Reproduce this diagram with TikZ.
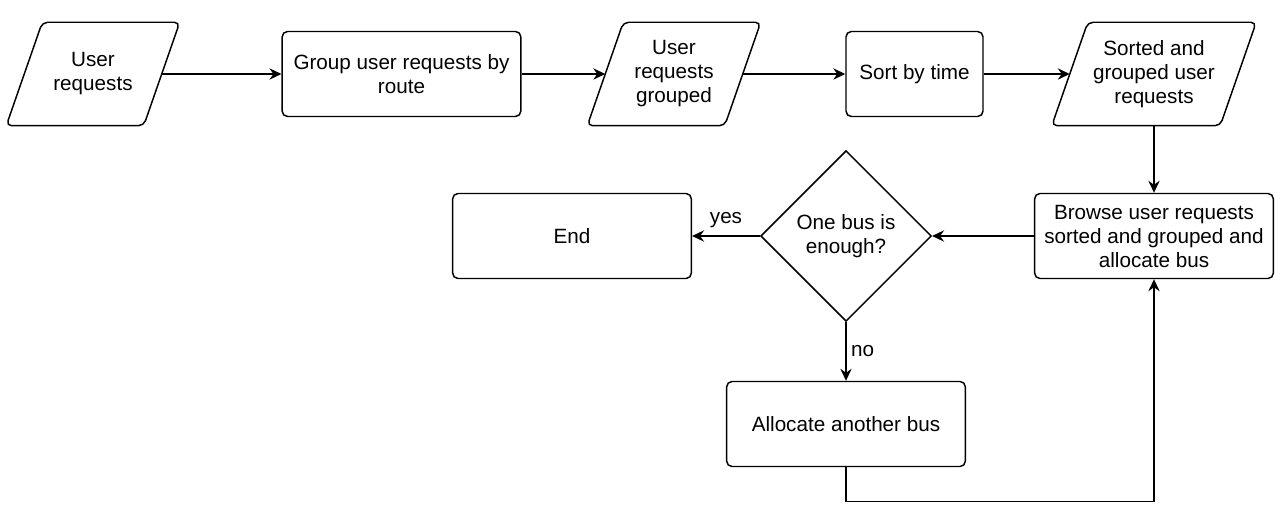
\documentclass[tikz,border=0pt]{standalone}
\usepackage{fontspec}
\setmainfont{Liberation Sans}
\usetikzlibrary{arrows.meta,shapes.geometric}

\begin{document}
\begin{tikzpicture}[x=0.75pt,y=-0.75pt,line width=1.1pt,
  font=\fontsize{15.5}{18}\selectfont,
  >={Stealth[length=9pt,width=8.5pt,inset=3pt]},
  process/.style={rectangle,draw,rounded corners=4pt,align=center,inner sep=0pt,minimum width=179pt,minimum height=63.75pt},
  dataio/.style={rectangle,align=center,inner sep=0pt,minimum width=102pt,minimum height=76.5pt},
  dataedge/.style={draw,rounded corners=4pt},
  decision/.style={diamond,aspect=1,draw,align=center,inner sep=0pt,minimum size=128pt}]
\useasboundingbox (0,0) rectangle (1282,520);
\node[dataio] (ureq) at (93,74) {User\\requests};
\node[process] (grp) at (401.5,74) {Group user requests by\\route};
\node[dataio] (ugrp) at (674,74) {User\\requests\\grouped};
\node[process,minimum width=102.75pt] (sort) at (914.5,74) {Sort by time};
\node[dataio,minimum width=125.25pt] (sreq) at (1154,74) {Sorted and\\grouped user\\requests};
\node[process] (browse) at (1154,236) {Browse user requests\\sorted and grouped and\\allocate bus};
\node[decision] (dec) at (846,236) {One bus is\\enough?};
\node[process] (end) at (572,236) {End};
\node[process] (alloc) at (846,424) {Allocate another bus};
% slanted outlines of the data nodes
\foreach \n in {ureq,ugrp,sreq}
  \path[dataedge] ([xshift=-13.5pt]\n.south west) -- ([xshift=-13.5pt]\n.south east)
    -- ([xshift=13.5pt]\n.north east) -- ([xshift=13.5pt]\n.north west) -- cycle;
\draw[->] (ureq) -- (grp);
\draw[->] (grp) -- (ugrp);
\draw[->] (ugrp) -- (sort);
\draw[->] (sort) -- (sreq);
\draw[->] (sreq) -- (browse);
\draw[->] (browse) -- (dec);
\draw[->] (dec) -- node[above=2pt] {yes} (end);
\draw[->] (dec) -- node[right] {no} (alloc);
\draw[->] (alloc.south) -- ++(0,34) -| (browse.south);
\end{tikzpicture}
\end{document}
